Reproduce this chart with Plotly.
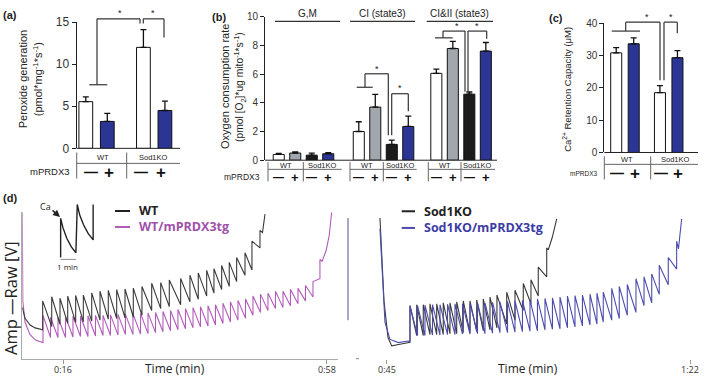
import plotly.graph_objects as go

W, H = 709, 384
def X(px): return px / W
def Y(py): return 1 - py / H

FONT = "Liberation Sans, Arial, sans-serif"
DFONT = "Open Sans, Liberation Sans, sans-serif"

# ---------------- data ----------------
# (a) peroxide generation
a_groups = ["WT", "Sod1KO"]
a_vals = [5.55, 3.2, 12.0, 4.5]
a_err = [0.57, 0.95, 2.1, 1.12]
a_colors = ["white", "#2b3594", "white", "#2b3594"]
a_yticks = [0, 5, 10, 15]

# (b) oxygen consumption
b_headers = ["G,M", "CI (state3)", "CI&II (state3)"]
b_gm = [0.40, 0.50, 0.35, 0.45]
b_gm_err = [0.08, 0.08, 0.15, 0.08]
b_ci = [2.0, 3.7, 1.1, 2.35]
b_ci_err = [0.68, 0.88, 0.30, 0.72]
b_cii = [6.05, 7.78, 4.6, 7.6]
b_cii_err = [0.30, 0.50, 0.15, 0.60]
b_colors = ["white", "#a2a6ad", "#1b1b1b", "#2b3594"]
b_yticks = [0, 2, 4, 6, 8, 10]

# (c) Ca retention capacity
c_vals = [30.8, 33.6, 18.5, 29.3]
c_err = [1.6, 1.8, 2.2, 2.2]
c_colors = ["white", "#2b3594", "white", "#2b3594"]
c_yticks = [0, 10, 20, 30, 40]

# (d) time tick labels
d_left_ticks = [16, 58]
d_left_ticktext = ["0:16", "0:58"]
d_right_ticks = [45, 82]
d_right_ticktext = ["0:45", "1:22"]

# (d) left: WT (black) traces, time in min, signal in arbitrary units
wt_lead_t = [9.46, 9.9, 10.7, 11.5]
wt_lead_y = [53.3, 42, 35, 32]
wt_spk_t = [12.71, 14.15, 15.47, 16.70, 17.97, 19.19, 20.53, 21.85, 23.17, 24.51,
            25.84, 27.16, 28.54, 30.09, 31.53, 32.90, 34.71, 36.19, 37.52, 38.86,
            40.02, 41.25, 42.46, 43.64, 44.97, 46.08, 47.36]
wt_spk_pre = [30, 33.3, 35.7, 36.7, 37.7, 38.3, 39, 40, 41, 41.7,
              42.3, 43.3, 45, 50, 52, 54, 56, 59, 61.7, 65,
              68, 71.7, 75, 80, 86.7, 92, 115]
wt_spk_peak = [60, 64.3, 62.7, 65, 65.7, 66, 68.3, 70, 71, 71.7,
               72.3, 73.3, 75, 78.3, 79, 81.7, 83.3, 86.7, 89, 91.7,
               93.3, 96.7, 100, 105, 110, 122, 133]
wt_tail_t = [47.76, 48.16]
wt_tail_y = [131, 150]

# WT/mPRDX3tg (purple)
wtg_lead_t = [9.46, 9.54, 9.89, 10.69, 11.64]
wtg_lead_y = [152, 60, 38, 25, 19]
wtg_spk_t = [12.76, 13.96, 15.15, 16.35, 17.54, 18.74, 19.93, 21.13, 22.33, 23.52,
             24.72, 25.91, 27.11, 28.31, 29.50, 30.70, 31.89, 33.09, 34.28, 35.48,
             36.68, 37.87, 39.07, 40.26, 41.46, 42.65, 43.85, 45.05, 46.24, 47.44,
             48.63, 49.83, 51.03, 52.22, 53.42, 54.61, 55.81, 56.92]
wtg_spk_pre = [16.7, 22, 22, 22, 22.5, 23, 23, 23.5, 24, 24,
               24.5, 25, 25, 25.5, 26, 27, 28, 29, 30, 31,
               32, 33, 34, 35, 36.5, 38, 40, 42, 45, 48,
               50, 52, 53, 55, 57, 60, 64, 83]
wtg_spk_peak = [45, 43, 43, 43.5, 44, 44, 44.5, 45, 45, 45.5,
                46, 46, 46.5, 47, 47.5, 48, 49, 50, 51, 52,
                53, 54, 55, 56, 57.5, 59, 60.5, 62, 65, 67,
                68, 70, 70, 72, 73, 76, 80, 103]
wtg_tail_t = [57.25, 57.9, 58.4, 58.79]
wtg_tail_y = [101, 112, 128, 152]

# (d) right: Sod1KO (black)
ko_lead_t = [44.18, 44.67, 45.16, 45.61, 46.62, 47.63]
ko_lead_y = [146, 60, 22, 13.3, 15, 17]
ko_spk_t = [47.84, 48.66, 49.46, 50.28, 51.10, 51.90, 52.72, 53.54, 54.34, 55.16,
            55.98, 56.78, 57.60, 58.45, 59.64, 60.65, 61.66, 62.60, 63.49, 64.52]
ko_spk_pre = [17, 24, 24, 25, 25, 25, 26, 26, 27, 27,
              28, 29, 30, 32, 36, 40, 50, 57, 65, 85]
ko_spk_peak = [55, 56, 56, 57, 57, 58, 58, 59, 60, 60,
               61, 62, 64, 66, 69, 71, 78, 82, 95, 115]
ko_tail_t = [64.71, 65.2, 65.74]
ko_tail_y = [113, 126, 145]

# Sod1KO/mPRDX3tg (blue)
kog_lead_t = [44.18, 44.37, 44.79, 45.40, 46.42, 47.63]
kog_lead_y = [135, 100, 38, 20, 16.7, 18.3]
kog_spk_t = [47.84, 48.76, 49.67, 50.59, 51.50, 52.42, 53.33, 54.25, 55.16, 56.08,
             56.99, 57.91, 58.82, 59.74, 60.65, 61.56, 62.48, 63.39, 64.31, 65.22,
             66.14, 67.05, 67.97, 68.88, 69.80, 70.65, 71.42, 72.45, 73.37, 74.35,
             75.41, 76.39, 77.33, 78.25, 79.35, 80.37]
kog_spk_pre = [18, 24, 24, 24.5, 24.5, 25, 25, 25.5, 25.5, 26,
               26, 26.5, 27, 27, 27.5, 28, 28.5, 29, 30, 30.5,
               31, 32, 33, 34, 35, 36, 38, 40, 41.7, 45,
               48, 55, 58, 66.7, 76.7, 93]
kog_spk_peak = [55, 55, 55.5, 56, 56, 56.5, 57, 57, 57.5, 58,
                58, 58.5, 59, 59.5, 60, 60.5, 61, 62, 62.5, 63,
                64, 65, 65.5, 66, 67, 68, 69, 73, 75, 77,
                83, 85, 88, 97, 105, 122]
kog_tail_t = [80.59, 80.98]
kog_tail_y = [114, 145]

# inset schematic (min, arbitrary units)
inset_t = [0, 0, 0.15, 0.4, 0.7, 1.0, 1.09, 1.25, 1.5, 1.8, 2.13, 2.13]
inset_y = [2, 42.7, 33, 22, 13, 7, 57, 46, 36, 27, 20.3, 57]

# ---------------- figure ----------------
fig = go.Figure()
shapes, annots = [], []

def line(x0, y0, x1, y1, color="#333", w=1.2):
    shapes.append(dict(type="line", xref="paper", yref="paper",
                       x0=X(x0), y0=Y(y0), x1=X(x1), y1=Y(y1),
                       line=dict(color=color, width=w)))

def txt(px, py, s, size, color="#222", bold=False, angle=0, xanchor="center", family=FONT):
    if bold:
        s = "<b>" + s + "</b>"
    annots.append(dict(x=X(px), y=Y(py), xref="paper", yref="paper", text=s,
                       showarrow=False, textangle=angle, xanchor=xanchor, yanchor="middle",
                       font=dict(size=size, color=color, family=family)))

def bar_axes(n, xdom, ydom, xr, yr, ticks, tsize):
    s = "" if n == 1 else str(n)
    fig.layout["xaxis" + s] = dict(domain=[X(xdom[0]), X(xdom[1])], range=xr, visible=False,
                                  anchor="y" + s, fixedrange=True)
    fig.layout["yaxis" + s] = dict(domain=[Y(ydom[1]), Y(ydom[0])], range=yr, anchor="x" + s,
                                  tickvals=ticks, ticks="outside", ticklen=4, tickwidth=1,
                                  tickcolor="#222", showline=True, linecolor="#222", linewidth=1,
                                  showgrid=False, zeroline=False,
                                  tickfont=dict(size=tsize, color="#333", family=FONT))

def bars(n, xs, vals, errs, colors, width):
    s = "" if n == 1 else str(n)
    fig.add_trace(go.Bar(x=xs, y=vals, width=width,
                         marker=dict(color=colors, line=dict(color="#111", width=1)),
                         error_y=dict(type="data", symmetric=False, array=errs,
                                      arrayminus=[0] * len(errs), color="#111",
                                      thickness=1.3, width=3),
                         xaxis="x" + s, yaxis="y" + s, showlegend=False))

def signs(xs_px, py, big, plus_extra=3):
    for i, xp in enumerate(xs_px):
        if i % 2 == 0:
            txt(xp, py, "—", big, "#111", bold=True)
        else:
            txt(xp, py, "+", big + plus_extra, "#111", bold=True)

# ---- (a)
a_unit, a_gap = 21.5, 2.68
a_x = [g * a_gap + i for g in range(2) for i in range(2)]
bar_axes(1, (76.5, 180), (15.7, 146.7), [(76.5 - 85.8) / a_unit, (180 - 85.8) / a_unit],
         [0, 15], a_yticks, 12)
bars(1, a_x, a_vals, a_err, a_colors, 0.64)
txt(10, 8, "(a)", 11, bold=True)
txt(23, 75, "Peroxide generation", 11, angle=-90)
txt(38, 75, "(pmol*mg<sup>-1</sup>*s<sup>-1</sup>)", 11, angle=-90)
line(76.5, 146.7, 180, 146.7, "#222", 1)
line(76.5, 162.3, 180, 162.3, "#666", 1)
line(76.7, 151, 76.7, 178, "#666", 1)
line(126.7, 151, 126.7, 178, "#666", 1)
txt(103, 156.5, a_groups[0], 7.5)
txt(153, 156.5, a_groups[1], 7.5)
txt(50, 171, "mPRDX3", 9.5)
signs([91, 109, 141, 161], 171.5, 14)
# brackets (a)
line(89.3, 80.7, 107.3, 80.7); line(97, 80.7, 97, 12.3); line(97, 12.3, 140, 12.3); line(140, 12.3, 140, 17)
line(143.3, 17, 143.3, 12.3); line(143.3, 12.3, 164, 12.3); line(164, 12.3, 164, 31.7)
txt(120, 6, "*", 9); txt(153, 6, "*", 9)

# ---- (b)
b_unit = 16.5
b_centers = [0, 4.85, 9.55]
b_offs = [-1.5, -0.5, 0.5, 1.5]
b_x = [c + o for c in b_centers for o in b_offs]
bar_axes(2, (265, 500), (10, 159), [(265 - 303.5) / b_unit, (500 - 303.5) / b_unit],
         [0, 10], b_yticks, 10)
bars(2, b_x, b_gm + b_ci + b_cii, b_gm_err + b_ci_err + b_cii_err, b_colors * 3, 0.67)
def bpx(u): return 303.5 + u * b_unit
txt(219, 10, "(b)", 11, bold=True)
txt(225, 83, "Oxygen consumption rate", 11, angle=-90)
txt(240, 83, "(pmol [O<sub>2</sub>]*ug mito<sup>-1</sup>*s<sup>-1</sup>)", 10.3, angle=-90)
b_hdr_x = [(275, 340), (350, 415), (426.7, 493)]
for (x0, x1), h in zip(b_hdr_x, b_headers):
    line(x0, 15, x1, 15, "#333", 1.2)
    txt((x0 + x1) / 2, 6.5, h, 10)
b_seg = [(268, 303.3, 341.7), (350, 383.3, 416.7), (428.3, 461, 495)]
line(265, 159, 497, 159, "#222", 1)
for L, M, R in b_seg:
    line(L, 168.5, R, 168.5, "#666", 1)
    line(L, 161, L, 181, "#666", 1)
    line(M, 161, M, 181, "#666", 1)
    txt((L + M) / 2, 164, "WT", 7.5)
    txt((M + R) / 2, 164, "Sod1KO", 7.5)
signs([bpx(u) for u in b_x], 176.5, 11, 2)
txt(262, 176, "mPRDX3", 8.5, xanchor="right")
# brackets (b)
line(356.7, 83.3, 372.7, 83.3); line(365, 83.3, 365, 69.3); line(365, 69.3, 388.3, 69.3); line(388.3, 69.3, 388.3, 133)
line(391.7, 133, 391.7, 90); line(391.7, 90, 408.3, 90); line(408.3, 90, 408.3, 108.3)
txt(376.7, 64, "*", 9); txt(400, 84, "*", 9)
line(435, 32, 452.7, 32); line(443, 32, 443, 25); line(443, 25, 465, 25); line(465, 25, 465, 88)
line(468, 88, 468, 25); line(468, 25, 486.7, 25); line(486.7, 25, 486.7, 33)
txt(456.7, 20, "*", 9); txt(476.7, 20, "*", 9)

# ---- (c)
c_unit = 17.5
c_x = [0, 1, 2.5, 3.5]
bar_axes(3, (604.3, 700), (16.7, 151), [(604.3 - 616.2) / c_unit, (700 - 616.2) / c_unit],
         [0, 40], c_yticks, 10)
bars(3, c_x, c_vals, c_err, c_colors, 0.63)
def cpx(u): return 616.2 + u * c_unit
txt(556, 11.5, "(c)", 11, bold=True)
txt(567, 86, "Ca<sup>2+</sup> Retention Capacity (μM)", 9.5, angle=-90)
line(604.3, 151, 698, 151, "#222", 1)
line(604.3, 163.3, 698, 163.3, "#666", 1)
line(604.3, 155, 604.3, 179, "#666", 1)
line(650.7, 155, 650.7, 179, "#666", 1)
txt(627, 158.5, "WT", 7.5)
txt(675, 158.5, "Sod1KO", 7.5)
txt(583, 172.7, "mPRDX3", 6.5)
signs([cpx(u) + 1 for u in c_x], 172.5, 14)
line(611.7, 25, 640, 25); line(625.7, 25, 625.7, 15.7); line(625.7, 15.7, 660, 15.7); line(660, 15.7, 660, 76)
line(664, 76, 664, 15.7); line(664, 15.7, 677.3, 15.7); line(677.3, 15.7, 677.3, 27.3)
txt(646.7, 10, "*", 9); txt(670.7, 10, "*", 9)

# ---- (d)
def saw(lead_t, lead_y, st, spre, spk, tail_t, tail_y):
    xs, ys = list(lead_t), list(lead_y)
    for t, p, k in zip(st, spre, spk):
        xs += [t, t]
        ys += [p, k]
    return xs + list(tail_t), ys + list(tail_y)

fig.layout["xaxis4"] = dict(domain=[X(22.3), X(338)], range=[9.46, 59.8], anchor="y4",
                            tickvals=d_left_ticks, showticklabels=False, ticks="outside",
                            ticklen=4, tickcolor="#999", showline=True, linecolor="#aaa",
                            showgrid=False, zeroline=False)
fig.layout["yaxis4"] = dict(domain=[Y(365), Y(213)], range=[0, 152], anchor="x4",
                            showline=True, linecolor="#aaa", showticklabels=False,
                            ticks="", showgrid=False, zeroline=False)
fig.layout["xaxis5"] = dict(domain=[X(374.4), X(702.3)], range=[43.5, 83.5], anchor="y5",
                            tickvals=d_right_ticks, showticklabels=False, ticks="outside",
                            ticklen=4, tickcolor="#999", showline=False,
                            showgrid=False, zeroline=False)
fig.layout["yaxis5"] = dict(domain=[Y(365), Y(213)], range=[0, 152], anchor="x5",
                            visible=False)
fig.layout["xaxis6"] = dict(domain=[X(55), X(100)], range=[-0.37, 2.58], anchor="y6", visible=False)
fig.layout["yaxis6"] = dict(domain=[Y(262), Y(203)], range=[0, 59], anchor="x6", visible=False)

# tick labels placed through the axis scale
for tv, tt in zip(d_left_ticks, d_left_ticktext):
    annots.append(dict(x=tv, y=Y(376.5), xref="x4", yref="paper", text=tt, showarrow=False,
                       font=dict(size=9, color="#333", family=DFONT), yanchor="middle"))
for tv, tt in zip(d_right_ticks, d_right_ticktext):
    annots.append(dict(x=tv, y=Y(376.5), xref="x5", yref="paper", text=tt, showarrow=False,
                       font=dict(size=9, color="#333", family=DFONT), yanchor="middle"))

xs, ys = saw(wtg_lead_t, wtg_lead_y, wtg_spk_t, wtg_spk_pre, wtg_spk_peak, wtg_tail_t, wtg_tail_y)
fig.add_trace(go.Scatter(x=xs, y=ys, mode="lines", line=dict(color="#b25cba", width=1.1),
                         xaxis="x4", yaxis="y4", showlegend=False))
xs, ys = saw(wt_lead_t, wt_lead_y, wt_spk_t, wt_spk_pre, wt_spk_peak, wt_tail_t, wt_tail_y)
fig.add_trace(go.Scatter(x=xs, y=ys, mode="lines", line=dict(color="#3a3a3a", width=1.1),
                         xaxis="x4", yaxis="y4", showlegend=False))
xs, ys = saw(ko_lead_t, ko_lead_y, ko_spk_t, ko_spk_pre, ko_spk_peak, ko_tail_t, ko_tail_y)
fig.add_trace(go.Scatter(x=xs, y=ys, mode="lines", line=dict(color="#3a3a3a", width=1.1),
                         xaxis="x5", yaxis="y5", showlegend=False))
xs, ys = saw(kog_lead_t, kog_lead_y, kog_spk_t, kog_spk_pre, kog_spk_peak, kog_tail_t, kog_tail_y)
fig.add_trace(go.Scatter(x=xs, y=ys, mode="lines", line=dict(color="#4c4cac", width=1.1),
                         xaxis="x5", yaxis="y5", showlegend=False))
fig.add_trace(go.Scatter(x=inset_t, y=inset_y, mode="lines", line=dict(color="#222", width=1.4),
                         xaxis="x6", yaxis="y6", showlegend=False))
fig.add_trace(go.Scatter(x=[0, 1], y=[0, 0], mode="lines", line=dict(color="#222", width=1),
                         xaxis="x6", yaxis="y6", showlegend=False))

txt(10, 198, "(d)", 11, bold=True)
txt(11, 302, "Amp —Raw [V]", 16.5, angle=-90, family=DFONT)
txt(175, 375, "Time (min)", 12, family=DFONT)
txt(528, 375, "Time (min)", 12, family=DFONT)
txt(67, 269.5, "1 min", 8, family=DFONT)
txt(45, 207, "Ca", 9, family=DFONT)
annots.append(dict(x=X(60), y=Y(218), ax=-9, ay=-8, xref="paper", yref="paper",
                   text="", showarrow=True, arrowhead=2,
                   arrowsize=1, arrowwidth=1.4, arrowcolor="#222"))
# legends
line(115, 211.7, 130, 211.7, "#222", 2)
txt(137, 211.7, "WT", 12.5, "#222", bold=True, xanchor="left", family=DFONT)
line(115, 228.3, 130, 228.3, "#b25cba", 2)
txt(137, 228.3, "WT/mPRDX3tg", 12.5, "#a052aa", bold=True, xanchor="left", family=DFONT)
line(401.7, 212, 415, 212, "#222", 2)
txt(421.7, 212, "Sod1KO", 12.5, "#222", bold=True, xanchor="left", family=DFONT)
line(401.7, 229.3, 415, 229.3, "#4c4cac", 2)
txt(421.7, 229.3, "Sod1KO/mPRDX3tg", 12.5, "#3c3ca4", bold=True, xanchor="left", family=DFONT)
line(348, 219, 348, 325, "#6b6bb0", 1.2)
line(356, 365, 359, 365, "#888", 1)

fig.update_layout(width=W, height=H, margin=dict(l=0, r=0, t=0, b=0),
                  paper_bgcolor="white", plot_bgcolor="rgba(0,0,0,0)",
                  shapes=shapes, annotations=annots, bargap=0,
                  font=dict(family=FONT), hovermode=False)
fig.write_html("out.html", config={"displayModeBar": False, "staticPlot": True},
               post_script="document.body.style.margin='0';document.body.style.overflow='hidden';")
